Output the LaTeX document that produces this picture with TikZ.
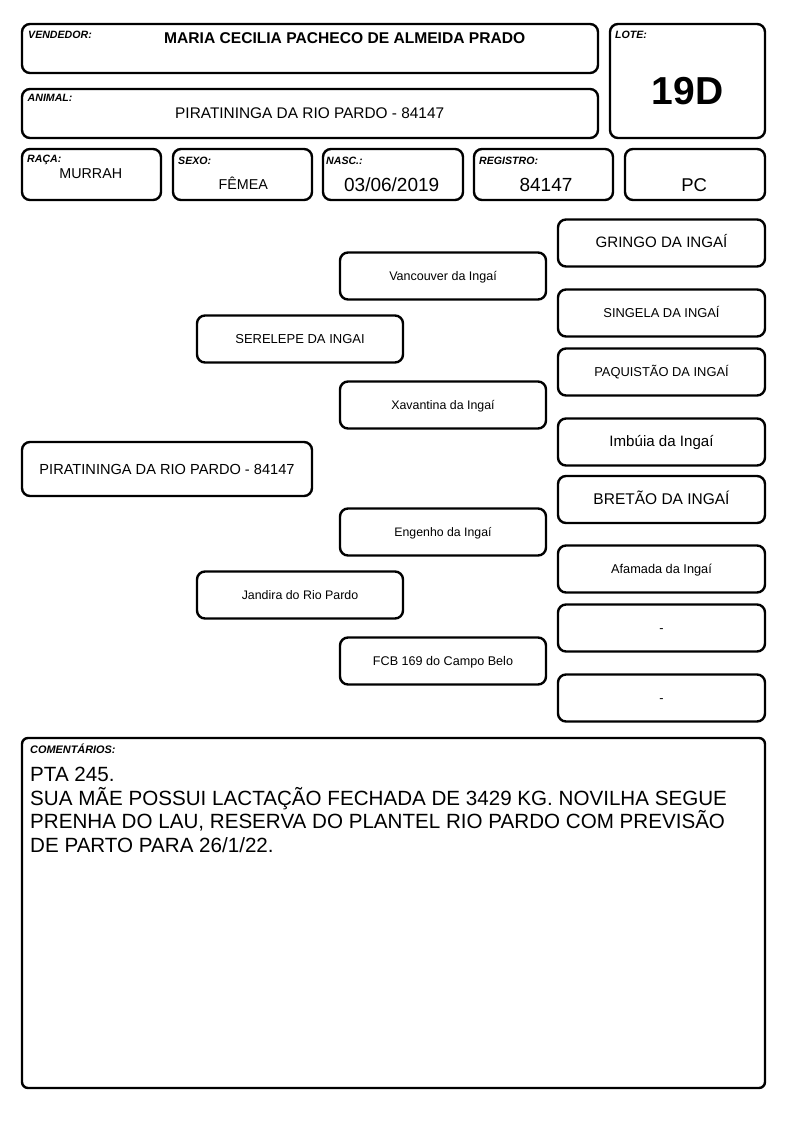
\documentclass[tikz,border=0pt]{standalone}
\usepackage{fontspec}
\setmainfont{Liberation Sans}
\newcommand\fsz[1]{\fontsize{#1}{#1}\selectfont}
\begin{document}
\begin{tikzpicture}[x=1pt,y=-1pt,
  box/.style={draw=black, line width=2.4pt, rounded corners=8pt, inner sep=0pt},
  hbox/.style={box, minimum height=51pt},
  pbox/.style={box, minimum width=206pt, minimum height=47pt, text height=9.5pt, text depth=0pt},
  lbl/.style={inner sep=0pt, anchor=base west, font=\fsz{10.6}\bfseries\itshape},
  val/.style={inner sep=0pt, anchor=base},
]
\useasboundingbox[fill=white] (0,0) rectangle (794,1123);

% header boxes
\node[box, minimum width=576pt, minimum height=49pt] (vend) at (310,48.5) {};
\node[box, minimum width=576pt, minimum height=49pt] (anim) at (310,113.5) {};
\node[box, minimum width=155pt, minimum height=114pt] (lote) at (687.5,81) {};
\node[hbox, minimum width=139pt] (raca) at (91.5,174.5) {};
\node[hbox, minimum width=139pt] (sexo) at (242.5,174.5) {};
\node[hbox, minimum width=140pt] (nasc) at (393,174.5) {};
\node[hbox, minimum width=139pt] (reg) at (543.5,174.5) {};
\node[hbox, minimum width=140pt] (pc) at (695,174.5) {};

% header labels
\node[lbl] (vendl) at (28,38.3) {VENDEDOR:};
\node[lbl] (animl) at (27.5,102) {ANIMAL:};
\node[lbl] (lotel) at (615,39) {LOTE:};
\node[lbl] (racal) at (27,163) {RAÇA:};
\node[lbl] (sexol) at (178,165) {SEXO:};
\node[lbl] (nascl) at (326,165) {NASC.:};
\node[lbl] (regl) at (479,165) {REGISTRO:};

% header values
\node[val, font=\fsz{15.6}\bfseries] (vendv) at (344.7,43.5) {MARIA CECILIA PACHECO DE ALMEIDA PRADO};
\node[val, font=\fsz{15.4}] (animv) at (309.7,119) {PIRATININGA DA RIO PARDO - 84147};
\node[val, font=\fsz{39}\bfseries] (lotev) at (687.5,105) {19D};
\node[val, font=\fsz{14.3}] (racav) at (90.8,178.3) {MURRAH};
\node[val, font=\fsz{14.3}] (sexov) at (243.3,190) {FÊMEA};
\node[val, font=\fsz{19}] (nascv) at (391.7,191.7) {03/06/2019};
\node[val, font=\fsz{19}] (regv) at (546,191.7) {84147};
\node[val, font=\fsz{18.5}] (pcv) at (694.2,191.7) {PC};

% pedigree: generation 0
\node[box, minimum width=290pt, minimum height=54pt, text height=10.5pt, text depth=0pt, font=\fsz{14.6}] (p0) at (167,469) {PIRATININGA DA RIO PARDO - 84147};
% generation 1
\node[pbox, font=\fsz{13}] (p1a) at (300,339) {SERELEPE DA INGAI};
\node[pbox, font=\fsz{12.4}] (p1b) at (300,595) {Jandira do Rio Pardo};
% generation 2
\node[pbox, font=\fsz{12.5}] (p2a) at (443,276) {Vancouver da Ingaí};
\node[pbox, font=\fsz{12.4}] (p2b) at (443,405) {Xavantina da Ingaí};
\node[pbox, font=\fsz{12.3}] (p2c) at (443,532) {Engenho da Ingaí};
\node[pbox, font=\fsz{12.6}] (p2d) at (443,661) {FCB 169 do Campo Belo};
% generation 3
\node[pbox, minimum width=207pt, font=\fsz{15.1}] (p3a) at (661.5,243) {GRINGO DA INGAÍ};
\node[pbox, minimum width=207pt, font=\fsz{12.9}] (p3b) at (661.5,313) {SINGELA DA INGAÍ};
\node[pbox, minimum width=207pt, font=\fsz{12.9}] (p3c) at (661.5,372) {PAQUISTÃO DA INGAÍ};
\node[pbox, minimum width=207pt, font=\fsz{15.1}] (p3d) at (661.5,442) {Imbúia da Ingaí};
\node[pbox, minimum width=207pt, font=\fsz{15.5}] (p3e) at (661.5,499.5) {BRETÃO DA INGAÍ};
\node[pbox, minimum width=207pt, font=\fsz{12.75}] (p3f) at (661.5,569) {Afamada da Ingaí};
\node[pbox, minimum width=207pt, font=\fsz{12.75}] (p3g) at (661.5,628) {-};
\node[pbox, minimum width=207pt, font=\fsz{12.75}] (p3h) at (661.5,698) {-};

% comments
\node[box, rounded corners=6pt, minimum width=743pt, minimum height=350pt] (com) at (393.5,913) {};
\node[lbl, font=\fsz{10.9}\bfseries\itshape] (coml) at (30,753) {COMENTÁRIOS:};
\node[inner sep=0pt, anchor=north west, align=left, font=\fontsize{20.6}{23.7}\selectfont] (comt) at (30,767) {PTA 245.\\SUA MÃE POSSUI LACTAÇÃO FECHADA DE 3429 KG. NOVILHA SEGUE\\PRENHA DO LAU, RESERVA DO PLANTEL RIO PARDO COM PREVISÃO\\DE PARTO PARA 26/1/22.};
\end{tikzpicture}
\end{document}
